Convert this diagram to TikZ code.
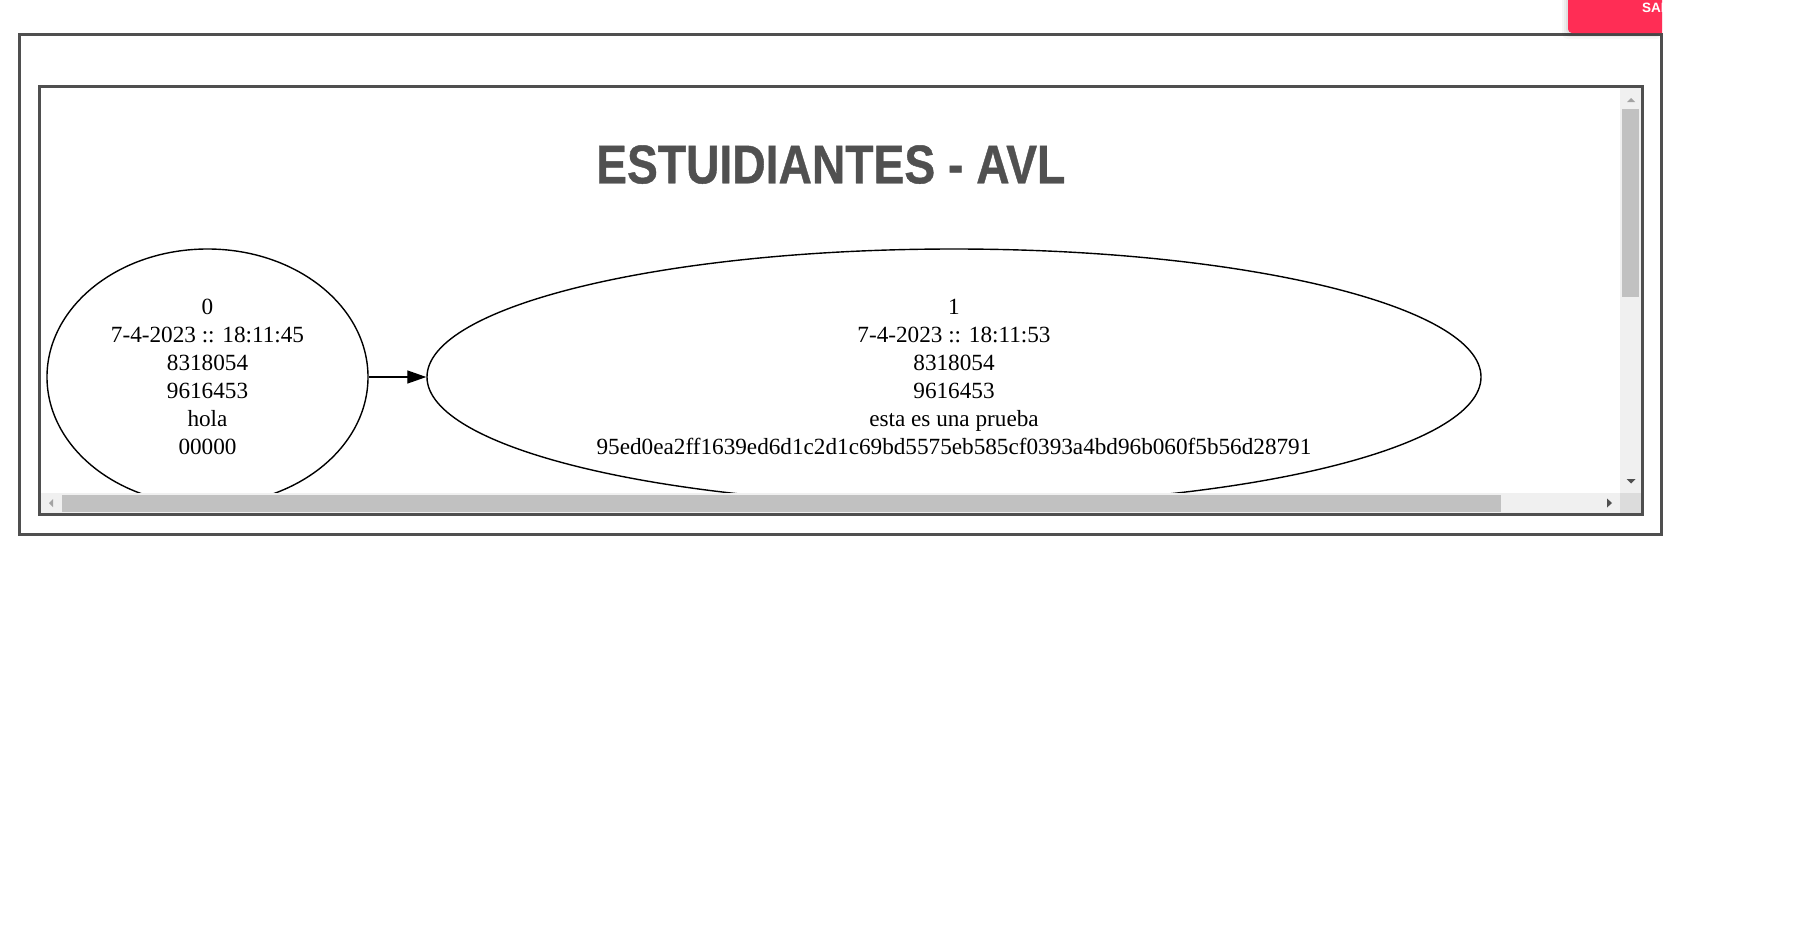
\documentclass[tikz,border=0pt]{standalone}
\usepackage{fontspec}
\setmainfont{Liberation Serif}
\newfontfamily\titlefont[FakeBold=0.8]{Liberation Sans}
\newfontfamily\btnfont{Liberation Sans}
\usetikzlibrary{shapes.geometric,arrows.meta}
\definecolor{framegray}{HTML}{4F4F4F}
\definecolor{titlegray}{HTML}{505050}
\definecolor{trackgray}{HTML}{F0F0F0}
\definecolor{thumbgray}{HTML}{C1C1C1}
\definecolor{cornergray}{HTML}{DCDCDC}
\definecolor{arrowdark}{HTML}{505050}
\definecolor{arrowlight}{HTML}{A3A3A3}
\definecolor{btnred}{HTML}{FF2D55}
\tikzset{
  framebox/.style={draw=framegray, line width=3pt},
  graphnode/.style={ellipse, draw=black, line width=1.4pt, inner sep=0pt, align=center,
    font=\fontsize{23.2}{28}\selectfont},
  graphedge/.style={draw=black, line width=1.3pt, -{Triangle[length=19pt,width=13pt]}},
  scrolltrack/.style={fill=trackgray},
  scrollthumb/.style={fill=thumbgray},
}
\begin{document}
\begin{tikzpicture}[x=1pt,y=-1pt]
\useasboundingbox (0,0) rectangle (1804,929);
\fill[white] (0,0) rectangle (1804,929);

% outer frame
\draw[framebox] (19.5,34.5) rectangle (1661.5,534.5);
% inner frame
\draw[framebox] (39.5,86.5) rectangle (1642.5,514.5);

% graph viewport
\begin{scope}
\clip (41,88) rectangle (1620,493);
\node[titlegray, anchor=south west, inner sep=0pt] (title) at (596,184)
  {\resizebox{469pt}{38pt}{\titlefont\bfseries ESTUIDIANTES - AVL}};
\node[graphnode, minimum width=321pt, minimum height=256pt] (n0) at (207.5,377)
  {0\\7-4-2023 :: 18:11:45\\8318054\\9616453\\hola\\00000};
\node[graphnode, minimum width=1054pt, minimum height=256pt] (n1) at (954,377)
  {1\\7-4-2023 :: 18:11:53\\8318054\\9616453\\esta es una prueba\\95ed0ea2ff1639ed6d1c2d1c69bd5575eb585cf0393a4bd96b060f5b56d28791};
\draw[graphedge] (n0) -- (n1);
\end{scope}

% vertical scrollbar
\fill[scrolltrack] (1620,88) rectangle (1641,493);
\fill[scrollthumb] (1622,109) rectangle (1639,297);
\fill[arrowlight] (1627,102) -- (1635,102) -- (1631,98) -- cycle;
\fill[arrowdark] (1626.5,479) -- (1635.5,479) -- (1631,483.5) -- cycle;
% horizontal scrollbar
\fill[scrolltrack] (41,493) rectangle (1620,513);
\fill[scrollthumb] (62,495) rectangle (1501,512);
\fill[arrowlight] (53,499) -- (53,507) -- (49,503) -- cycle;
\fill[arrowdark] (1607,498.5) -- (1607,507.5) -- (1612,503) -- cycle;
% corner
\fill[cornergray] (1620,493) rectangle (1641,513);

% red button (partly cut off)
\begin{scope}
\clip (1540,0) rectangle (1662,60);
\foreach \k/\o in {6/0.03,4/0.04,2/0.05}{
  \fill[black, opacity=\o, rounded corners=6pt] (1568-\k,-10) rectangle (1662,33+\k);
}
\fill[btnred] (1568,-10) [rounded corners=4pt] -- (1568,33) [sharp corners] -- (1670,33) -- (1670,-10) -- cycle;
\node[white, anchor=base west, inner sep=0pt, font=\btnfont\bfseries\fontsize{13.5}{15}\selectfont] (btn) at (1642,12) {SALIR};
\end{scope}
\end{tikzpicture}
\end{document}
